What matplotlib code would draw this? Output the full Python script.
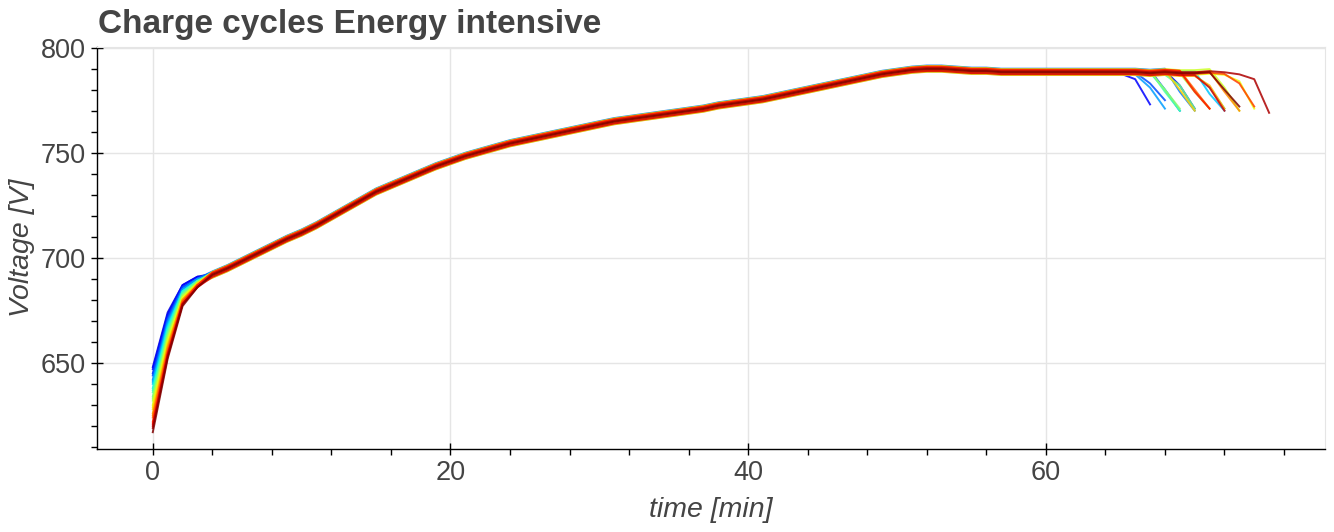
import numpy as np
import matplotlib
matplotlib.use("Agg")
import matplotlib.pyplot as plt
from matplotlib.ticker import MultipleLocator

plt.rcParams["font.family"] = ["Liberation Sans", "DejaVu Sans"]

# voltage [V] per minute, shared part of the charge curve (minute 4 .. 73)
v_base = [692, 695, 698.5, 702, 705.5, 709, 712, 715.5, 719.5, 723.5,
          727.5, 731.5, 734.5, 737.5, 740.5, 743.5, 746, 748.5, 750.5, 752.5,
          754.5, 756, 757.5, 759, 760.5, 762, 763.5, 765, 766, 767,
          768, 769, 770, 771, 772.5, 773.5, 774.5, 775.5, 777, 778.5,
          780, 781.5, 783, 784.5, 786, 787.5, 788.5, 789.5, 790, 790,
          789.5, 789, 789, 788.5, 788.5, 788.5, 788.5, 788.5, 788.5, 788.5,
          788.5, 788.5, 788.5, 788, 788.5, 788, 788, 788.5, 788, 787]

# first minutes of every cycle (oldest cycle first)
v_min0 = [648, 647, 645, 644, 642, 641, 640, 638, 637, 636, 634, 633,
          632, 630, 629, 628, 626, 625, 624, 622, 621, 620, 619, 617]
v_min1 = [674, 673, 672, 671, 670, 669, 668, 667, 666, 665, 664, 663,
          662, 661, 660, 659, 658, 657, 656, 655, 654, 654, 653, 652]
v_min2 = [687, 687, 686, 686, 685, 685, 684, 684, 684, 683, 683, 682,
          682, 681, 681, 680, 680, 680, 679, 679, 678, 678, 678, 677]
v_min3 = [691, 691, 690, 690, 690, 690, 689, 689, 689, 689, 689, 688,
          688, 688, 688, 688, 687, 687, 687, 687, 687, 686, 686, 686]

# level shift of each cycle against the shared curve
v_shift = [0.4, -0.8, 1.2, -0.3, 1.5, -1.2, 0.8, 0.1, -0.6, 1.0, -1.4, 0.5,
           -0.2, 1.3, -0.9, 0.7, -1.5, 0.2, 1.1, -0.5, 0.9, -1.1, 0.3, -0.2]

# end of charge: last minute, voltage one minute before and at the end
t_last = [70, 67, 69, 68, 70, 68, 72, 69, 72, 69, 70, 69,
          71, 73, 74, 70, 72, 73, 71, 74, 71, 72, 75, 73]
v_mid = [782, 785, 780, 783, 779, 781, 778, 780, 781, 779, 782, 780,
         779, 781, 784, 780, 782, 779, 780, 783, 779, 781, 785, 780]
v_end = [771, 773, 770, 775, 770, 771, 770, 770, 771, 770, 771, 771,
         771, 770, 771, 770, 771, 770, 771, 772, 771, 770, 769, 772]

n = len(v_min0)
colors = plt.cm.jet(np.linspace(0.08, 1.0, n))

fig = plt.figure(figsize=(13.34, 5.32), dpi=100)
ax = fig.add_axes([0.0727, 0.156, 0.9205, 0.7556])

for i in range(n):
    T = t_last[i]
    head = [v_min0[i], v_min1[i], v_min2[i], v_min3[i]]
    body = [v + v_shift[i] for v in v_base[:T - 5]]
    v = head + body + [v_mid[i], v_end[i]]
    ax.plot(np.arange(T + 1), v, color=colors[i], lw=1.4, alpha=0.85)

ax.set_xlim(-3.75, 78.75)
ax.set_ylim(609, 800.3)
ax.xaxis.set_major_locator(MultipleLocator(20))
ax.xaxis.set_minor_locator(MultipleLocator(4))
ax.yaxis.set_major_locator(MultipleLocator(50))
ax.yaxis.set_minor_locator(MultipleLocator(10))
ax.grid(True, which="major", color="#e5e5e5", lw=1)
ax.set_axisbelow(True)

for s in ("top", "right"):
    ax.spines[s].set_color("#e5e5e5")
for s in ("left", "bottom"):
    ax.spines[s].set_color("black")
    ax.spines[s].set_linewidth(1)
ax.tick_params(which="major", direction="inout", length=8, width=1,
               labelsize=19.5, labelcolor="#444444", pad=4)
ax.tick_params(which="minor", direction="out", length=4, width=1)

fig.text(0.0735, 1 - 33 / 532, "Charge cycles Energy intensive",
         fontsize=24, fontweight="bold", color="#444444", va="baseline")
fig.text(711 / 1334, 1 - 510 / 532, "time [min]", fontsize=20.5,
         style="italic", color="#444444", ha="center", va="center")
fig.text(22 / 1334, 1 - 248 / 532, "Voltage [V]", fontsize=20.5,
         style="italic", color="#444444", ha="center", va="center", rotation=90)

fig.savefig("out.png", dpi=100)
